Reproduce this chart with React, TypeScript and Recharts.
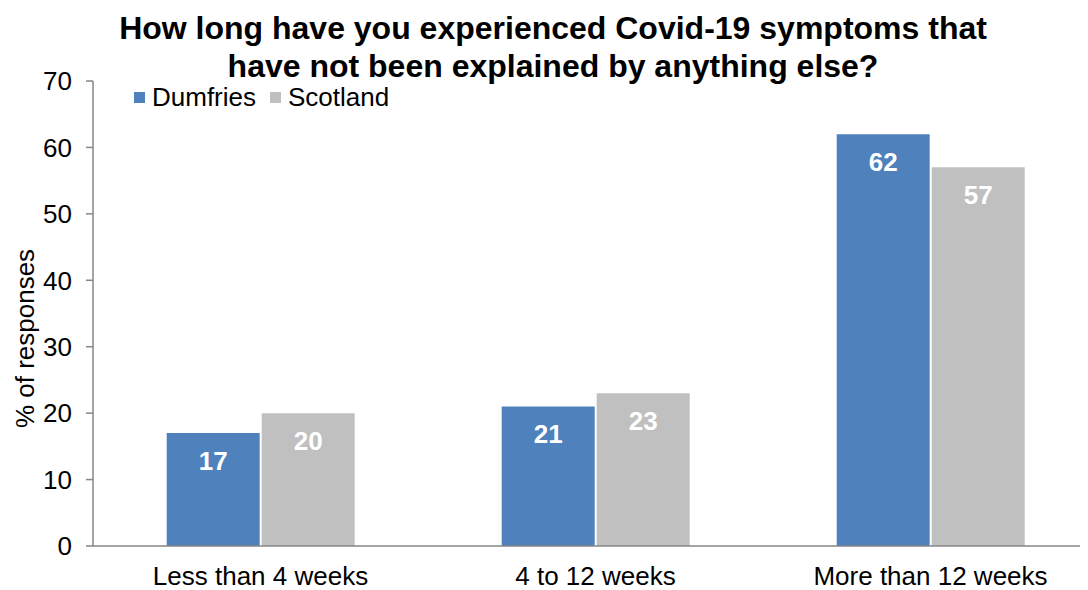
import { BarChart, Bar, XAxis, YAxis, LabelList } from 'recharts'

const categories = ['Less than 4 weeks', '4 to 12 weeks', 'More than 12 weeks']
const dumfries = [17, 21, 62]
const scotland = [20, 23, 57]
const yTicks = [0, 10, 20, 30, 40, 50, 60, 70]
const edgeTicks = [0, 1, 2, 3]

const data = categories.map((name, i) => ({ name, dumfries: dumfries[i], scotland: scotland[i] }))

const font = 'Liberation Sans, Arial, sans-serif'
const axisGrey = '#868686'
const textSize = 26

const series = [
  { key: 'dumfries', name: 'Dumfries', color: '#4F81BD' },
  { key: 'scotland', name: 'Scotland', color: '#C0C0C0' },
]

export default function App() {
  return (
    <div style={{ position: 'relative', width: 1080, height: 582, overflow: 'hidden', fontFamily: font }}>
      <div
        style={{
          position: 'absolute',
          top: 1,
          left: 0,
          width: 1090,
          textAlign: 'center',
          fontWeight: 'bold',
          fontSize: 32,
          lineHeight: '38px',
          color: '#000',
          zIndex: 2,
        }}
      >
        How long have you experienced Covid-19 symptoms that
        <br />
        have not been explained by anything else?
      </div>
      <div
        style={{
          position: 'absolute',
          top: 76,
          left: 126,
          display: 'flex',
          alignItems: 'center',
          fontSize: textSize,
          lineHeight: '26px',
          color: '#000',
          zIndex: 2,
        }}
      >
        {series.map((s) => (
          <div key={s.key} style={{ display: 'flex', alignItems: 'center', marginRight: 14 }}>
            <span style={{ width: 11, height: 11, background: s.color, display: 'inline-block', marginRight: 7 }} />
            <span>{s.name}</span>
          </div>
        ))}
      </div>
      <BarChart
        width={1100}
        height={582}
        data={data}
        margin={{ top: 73, right: 10, bottom: 0, left: 37 }}
        barCategoryGap="22%"
        barGap={2}
      >
        {/* boundary ticks between categories, sits right under the plot */}
        <XAxis
          xAxisId="a"
          type="number"
          domain={[0, 3]}
          ticks={edgeTicks}
          tick={false}
          height={8}
          tickSize={7}
          stroke={axisGrey}
          axisLine={{ stroke: axisGrey, strokeWidth: 1.5 }}
          tickLine={{ stroke: axisGrey, strokeWidth: 1.5 }}
        />
        <XAxis
          xAxisId="b"
          dataKey="name"
          axisLine={false}
          tickLine={false}
          height={36}
          tick={{ fill: '#000', fontSize: textSize, fontFamily: font }}
          tickMargin={7}
          interval={0}
        />
        <YAxis
          domain={[0, 70]}
          ticks={yTicks}
          width={48}
          tickSize={7}
          tickMargin={14}
          axisLine={{ stroke: axisGrey, strokeWidth: 1.5 }}
          tickLine={{ stroke: axisGrey, strokeWidth: 1.5 }}
          tick={{ fill: '#000', fontSize: textSize, fontFamily: font }}
          label={{
            value: '% of responses',
            angle: -90,
            position: 'insideLeft',
            dx: -25,
            dy: 25,
            style: { textAnchor: 'middle', fill: '#000', fontSize: textSize, fontFamily: font },
          }}
        />
        {series.map((s) => (
          <Bar key={s.key} xAxisId="b" dataKey={s.key} name={s.name} fill={s.color} isAnimationActive={false}>
            <LabelList
              dataKey={s.key}
              position="insideTop"
              offset={18}
              fill="#fff"
              style={{ fontWeight: 'bold', fontSize: textSize, fontFamily: font }}
            />
          </Bar>
        ))}
      </BarChart>
    </div>
  )
}
